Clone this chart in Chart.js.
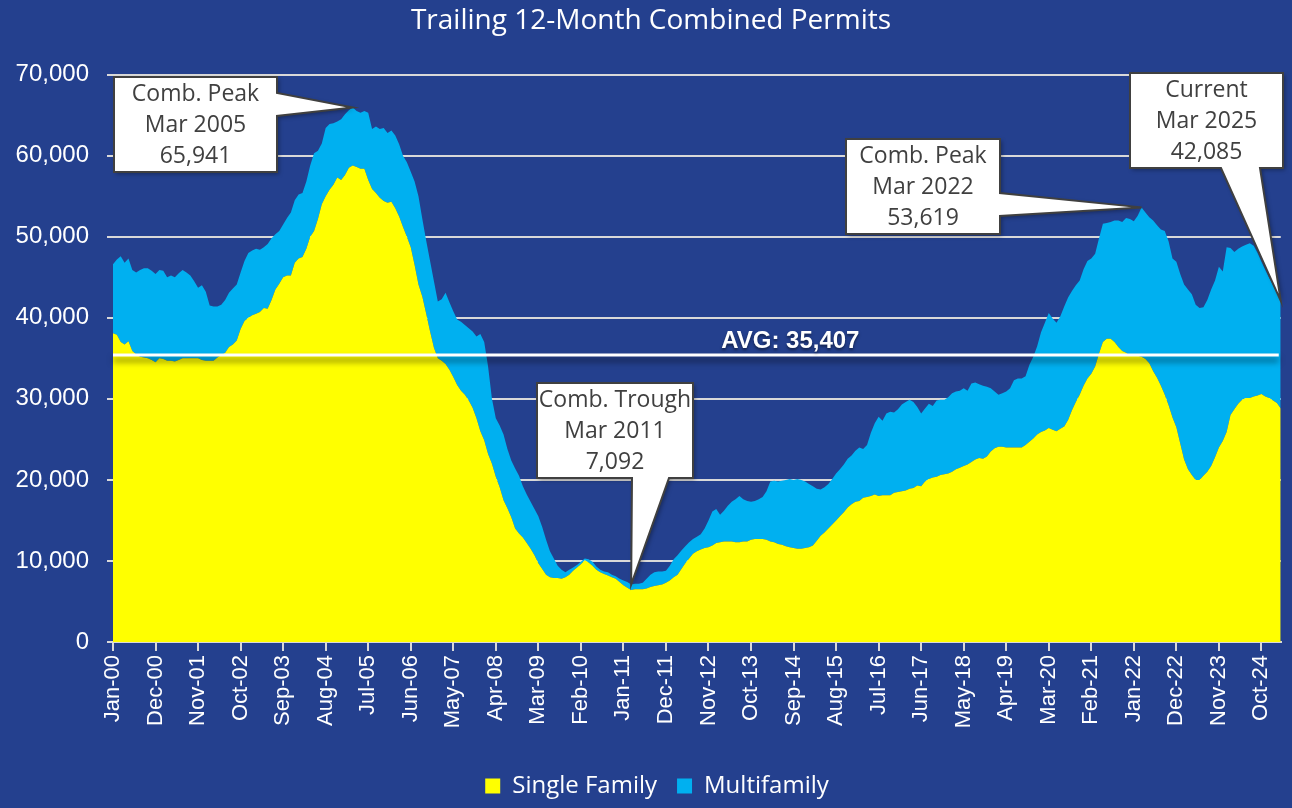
<!DOCTYPE html>
<html>
<head>
<meta charset="utf-8">
<title>Trailing 12-Month Combined Permits</title>
<script src="https://cdn.jsdelivr.net/npm/chart.js@4.4.1/dist/chart.umd.min.js"></script>
<style>
  html, body { margin: 0; padding: 0; background: #24408e; }
  canvas { display: block; }
</style>
</head>
<body>
<canvas id="chartPermits" width="1292" height="808"></canvas>
<script>
// month names used to build the Jan-00 ... Mar-25 categories
const monthNames = ['Jan', 'Feb', 'Mar', 'Apr', 'May', 'Jun', 'Jul', 'Aug', 'Sep', 'Oct', 'Nov', 'Dec'];
const firstYear = 2000;
const lastYear = 2025;
const lastMonth = 2; // Mar

// trailing 12-month single family permits, one row per year
const singleFamily = [
  38100, 37900, 37000, 36700, 37100, 35900, 35500, 35200, 35100, 35000, 34800, 34500,
  35000, 34900, 34700, 34700, 34600, 34800, 35000, 35000, 35000, 35000, 35000, 34800,
  34700, 34700, 34700, 35100, 35400, 35700, 36400, 36700, 37200, 38600, 39600, 40000,
  40300, 40500, 40700, 41200, 41100, 42200, 43500, 44200, 45000, 45200, 45200, 46800,
  47300, 47500, 48500, 50000, 50700, 52200, 54000, 55000, 55800, 56400, 57300, 57000,
  57600, 58500, 58800, 58600, 58400, 58400, 57000, 55900, 55400, 54800, 54400, 54200,
  54300, 53500, 52500, 51200, 50000, 48700, 46500, 44100, 42600, 40500, 38300, 36300,
  35000, 34700, 34300, 33600, 32700, 31700, 31000, 30500, 29800, 28900, 27600, 26000,
  24900, 23200, 22000, 20400, 19100, 17500, 16500, 15400, 14000, 13400, 12900, 12200,
  11500, 10700, 9700, 9000, 8300, 8000, 7900, 7900, 7800, 8000, 8300, 8800,
  9200, 9600, 10100, 9800, 9400, 8900, 8600, 8400, 8200, 8000, 7800, 7400,
  7000, 6700, 6400, 6500, 6500, 6500, 6600, 6800, 6900, 7000, 7100, 7300,
  7600, 8000, 8300, 9000, 9700, 10300, 10900, 11200, 11400, 11600, 11700, 11900,
  12200, 12300, 12400, 12400, 12400, 12300, 12300, 12400, 12400, 12600, 12700, 12700,
  12700, 12600, 12400, 12300, 12100, 12000, 11800, 11700, 11600, 11500, 11500, 11600,
  11700, 11900, 12500, 13100, 13500, 14000, 14500, 15000, 15500, 16000, 16600, 17000,
  17300, 17400, 17800, 17900, 18000, 18200, 18000, 18100, 18100, 18100, 18400, 18500,
  18600, 18700, 18900, 19000, 19300, 19200, 19800, 20100, 20300, 20400, 20600, 20700,
  20800, 21000, 21300, 21500, 21700, 21900, 22200, 22500, 22700, 22600, 22900, 23500,
  23900, 24100, 24100, 24000, 24000, 24000, 24000, 24000, 24300, 24700, 25100, 25600,
  25900, 26100, 26400, 26200, 26000, 26300, 26600, 27400, 28600, 29600, 30500, 31600,
  32500, 33100, 34000, 35600, 37000, 37400, 37400, 37000, 36400, 35900, 35700, 35300,
  35300, 35300, 35200, 34900, 34400, 33400, 32600, 31600, 30500, 29200, 27700, 26500,
  24500, 22500, 21300, 20600, 20000, 20000, 20500, 21000, 21700, 22800, 24000, 24800,
  25900, 28000, 28700, 29400, 29900, 30100, 30100, 30300, 30400, 30600, 30300, 30100,
  29800, 29500, 28800
];

// trailing 12-month multifamily permits, one row per year
const multifamily = [
  8500, 9300, 10600, 10100, 10200, 10000, 10100, 10700, 11000, 11100, 11000, 10900,
  10900, 10900, 10300, 10500, 10400, 10700, 10900, 10600, 10200, 9500, 8700, 9200,
  8500, 6800, 6700, 6300, 6200, 6500, 6700, 6900, 6900, 7000, 7400, 8000,
  8000, 8000, 7700, 7500, 8000, 7600, 6800, 6500, 6500, 7100, 7800, 7700,
  7900, 7900, 8300, 8800, 9600, 8400, 7500, 8400, 8100, 7600, 6900, 7500,
  7500, 7100, 7141, 6900, 6900, 7100, 8300, 7400, 8200, 8500, 9000, 8600,
  8800, 9000, 8900, 8800, 9200, 9300, 10300, 10900, 9600, 9000, 8700, 8200,
  7000, 7600, 8800, 8300, 8100, 8100, 8500, 8600, 8900, 9400, 10100, 12000,
  12100, 10800, 8000, 7200, 7600, 8100, 7300, 7000, 7400, 7100, 6300, 6000,
  5800, 5700, 5800, 5200, 4300, 3200, 2400, 1500, 1100, 600, 600, 400,
  300, 300, 200, 400, 500, 400, 300, 300, 400, 300, 300, 400,
  600, 700, 692, 700, 700, 800, 1200, 1500, 1700, 1700, 1600, 1500,
  1800, 2200, 2400, 2300, 2100, 2000, 1800, 1800, 1900, 2400, 3300, 4200,
  4200, 3400, 3800, 4400, 4900, 5300, 5700, 5200, 5000, 4700, 4700, 4900,
  5200, 6000, 7400, 7600, 7700, 7900, 8200, 8400, 8400, 8600, 8500, 8200,
  7800, 7300, 6400, 5700, 5600, 5500, 5600, 5800, 5800, 5900, 6000, 6000,
  6300, 6600, 6000, 6400, 7800, 8800, 9800, 9200, 10100, 10300, 9900, 10200,
  10700, 10900, 11000, 10600, 9700, 9000, 9000, 9300, 8800, 9400, 9300, 9200,
  9400, 9700, 9600, 9500, 9600, 9100, 9700, 9500, 9100, 9000, 8600, 7800,
  7000, 6400, 6600, 6900, 7300, 8300, 8500, 8500, 8500, 9500, 10100, 10900,
  12300, 13300, 14200, 13700, 13400, 13900, 14800, 15100, 14700, 14400, 14100, 14400,
  14500, 14200, 13900, 14200, 14600, 14300, 14400, 15000, 15600, 15900, 16600, 16900,
  16600, 17300, 18419, 18100, 18000, 18600, 18800, 19300, 20200, 20200, 19600, 20400,
  20900, 21600, 22200, 22300, 21600, 21200, 20800, 21200, 21800, 21800, 22300, 20900,
  22800, 20600, 19400, 19100, 18900, 18900, 19100, 18600, 17600, 16300, 15600, 14800,
  14200, 13600, 13285
];

const avgValue = 35407;
const yTicks = [0, 10000, 20000, 30000, 40000, 50000, 60000, 70000];
const labelEvery = 11;

// callout boxes: index into the months, box in canvas px, pointer base offsets
const callouts = [
  { lines: ['Comb. Peak', 'Mar 2005', '65,941'], index: 62, box: [114, 77, 163, 95], side: 'right', base: [16, 39] },
  { lines: ['Comb. Trough', 'Mar 2011', '7,092'], index: 134, box: [537, 383, 156, 95], side: 'bottom', base: [95, 132] },
  { lines: ['Comb. Peak', 'Mar 2022', '53,619'], index: 266, box: [846, 139, 154, 95], side: 'right', base: [54, 77] },
  { lines: ['Current', 'Mar 2025', '42,085'], index: 302, box: [1130, 73, 153, 95], side: 'bottom', base: [91, 130] }
];

const monthLabels = [];
for (let yr = firstYear; yr <= lastYear; yr++) {
  for (let m = 0; m < 12; m++) {
    if (yr === lastYear && m > lastMonth) break;
    monthLabels.push(monthNames[m] + '-' + String(yr).slice(2));
  }
}

const bgPlugin = {
  id: 'bg',
  beforeDraw(chart) {
    const ctx = chart.ctx;
    ctx.save();
    ctx.fillStyle = '#24408e';
    ctx.fillRect(0, 0, chart.width, chart.height);
    ctx.restore();
  },
  // nudge title and legend a bit right, like the original sheet
  afterLayout(chart) {
    if (chart.titleBlock) chart.titleBlock.left += 20;
    if (chart.legend) chart.legend.left += 32;
  }
};

const overlayPlugin = {
  id: 'overlay',
  afterDatasetsDraw(chart) {
    const { ctx, chartArea } = chart;
    const x = chart.scales.x;
    const y = chart.scales.y;

    // average line with its shadow
    const yAvg = y.getPixelForValue(avgValue);
    ctx.save();
    ctx.shadowColor = 'rgba(0, 0, 0, 0.6)';
    ctx.shadowBlur = 6;
    ctx.shadowOffsetY = 5;
    ctx.strokeStyle = '#ffffff';
    ctx.lineWidth = 3;
    ctx.beginPath();
    ctx.moveTo(chartArea.left, yAvg);
    ctx.lineTo(x.getPixelForValue(monthLabels.length - 1) - 2, yAvg);
    ctx.stroke();
    ctx.shadowBlur = 3;
    ctx.shadowOffsetY = 2;
    ctx.shadowColor = 'rgba(0, 0, 0, 0.5)';
    ctx.fillStyle = '#ffffff';
    ctx.font = 'bold 24px "Liberation Sans", Arial, sans-serif';
    ctx.textAlign = 'center';
    ctx.textBaseline = 'bottom';
    ctx.fillText('AVG: ' + avgValue.toLocaleString('en-US'), chartArea.left + chartArea.width * 0.58, yAvg - 2);
    ctx.restore();

    // callouts pointing at the stacked total
    callouts.forEach(c => {
      const tipX = x.getPixelForValue(c.index);
      const tipY = y.getPixelForValue(singleFamily[c.index] + multifamily[c.index]);
      const [bx, by, bw, bh] = c.box;
      ctx.save();
      ctx.beginPath();
      ctx.moveTo(bx, by);
      ctx.lineTo(bx + bw, by);
      if (c.side === 'right') {
        ctx.lineTo(bx + bw, by + c.base[0]);
        ctx.lineTo(tipX, tipY);
        ctx.lineTo(bx + bw, by + c.base[1]);
        ctx.lineTo(bx + bw, by + bh);
        ctx.lineTo(bx, by + bh);
      } else {
        ctx.lineTo(bx + bw, by + bh);
        ctx.lineTo(bx + c.base[1], by + bh);
        ctx.lineTo(tipX, tipY);
        ctx.lineTo(bx + c.base[0], by + bh);
        ctx.lineTo(bx, by + bh);
      }
      ctx.closePath();
      ctx.shadowColor = 'rgba(0, 0, 0, 0.35)';
      ctx.shadowBlur = 4;
      ctx.shadowOffsetX = 2;
      ctx.shadowOffsetY = 2;
      ctx.fillStyle = '#ffffff';
      ctx.fill();
      ctx.shadowColor = 'transparent';
      ctx.strokeStyle = '#404040';
      ctx.lineWidth = 2;
      ctx.lineJoin = 'miter';
      ctx.stroke();

      ctx.fillStyle = '#404040';
      ctx.font = '23px "Open Sans", sans-serif';
      ctx.textAlign = 'center';
      ctx.textBaseline = 'middle';
      c.lines.forEach((line, i) => {
        ctx.fillText(line, bx + bw / 2, by + 17 + i * 31);
      });
      ctx.restore();
    });
  }
};

new Chart(document.getElementById('chartPermits'), {
  type: 'line',
  data: {
    labels: monthLabels,
    datasets: [
      {
        label: 'Single Family',
        data: singleFamily,
        backgroundColor: '#ffff00',
        borderColor: '#ffff00',
        borderWidth: 0,
        pointRadius: 0,
        fill: 'origin',
        tension: 0
      },
      {
        label: 'Multifamily',
        data: multifamily,
        backgroundColor: '#00b0f0',
        borderColor: '#00b0f0',
        borderWidth: 0,
        pointRadius: 0,
        fill: '-1',
        tension: 0
      }
    ]
  },
  options: {
    responsive: false,
    animation: false,
    devicePixelRatio: 1,
    layout: { padding: { left: 0, right: 10, top: 0, bottom: 0 } },
    plugins: {
      title: {
        display: true,
        text: 'Trailing 12-Month Combined Permits',
        color: '#ffffff',
        font: { family: '"Open Sans", sans-serif', size: 28, weight: 'normal' },
        padding: { top: 4, bottom: 37 }
      },
      legend: {
        position: 'bottom',
        labels: {
          color: '#ffffff',
          font: { family: '"Open Sans", sans-serif', size: 24 },
          boxWidth: 15,
          boxHeight: 15,
          padding: 20
        }
      },
      tooltip: { enabled: false }
    },
    scales: {
      x: {
        type: 'category',
        offset: false,
        afterFit: s => { s.height = 112; },
        grid: { drawOnChartArea: false, drawTicks: true, tickLength: 9, color: '#d9d9d9', lineWidth: 2 },
        border: { display: true, color: '#d9d9d9', width: 2 },
        ticks: {
          autoSkip: false,
          maxRotation: 90,
          minRotation: 90,
          padding: 4,
          color: '#ffffff',
          font: { family: '"Liberation Sans", Arial, sans-serif', size: 22 },
          callback: function (val, i) {
            return i % labelEvery === 0 ? this.getLabelForValue(val) : null;
          }
        }
      },
      y: {
        stacked: true,
        min: yTicks[0],
        max: yTicks[yTicks.length - 1],
        afterFit: s => { s.width = 113; },
        afterBuildTicks: s => { s.ticks = yTicks.map(v => ({ value: v })); },
        grid: { color: '#d9d9d9', lineWidth: 2, tickLength: 6 },
        border: { display: false },
        ticks: {
          color: '#ffffff',
          padding: 18,
          font: { family: '"Liberation Sans", Arial, sans-serif', size: 24 },
          callback: v => v.toLocaleString('en-US')
        }
      }
    }
  },
  plugins: [bgPlugin, overlayPlugin]
});
</script>
</body>
</html>
